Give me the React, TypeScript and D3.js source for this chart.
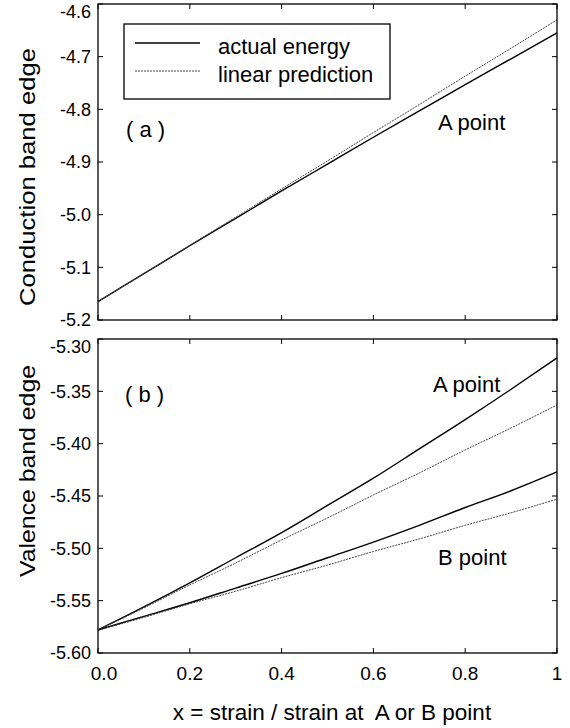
import React, { useEffect, useRef } from 'react';
import * as d3 from 'd3';

// strain fraction sampled along x
const xs = [0, 0.1, 0.2, 0.3, 0.4, 0.5, 0.6, 0.7, 0.8, 0.9, 1.0];

// panel (a): conduction band edge, A point
const condActualA = [-5.165, -5.112, -5.059, -5.007, -4.955, -4.904, -4.853, -4.803, -4.753, -4.704, -4.655];
const condLinearA = [-5.165, -5.112, -5.058, -5.005, -4.951, -4.898, -4.844, -4.791, -4.737, -4.684, -4.630];

// panel (b): valence band edge, A and B points
const valActualA = [-5.578, -5.556, -5.533, -5.509, -5.485, -5.459, -5.433, -5.405, -5.377, -5.348, -5.318];
const valLinearA = [-5.578, -5.557, -5.535, -5.514, -5.492, -5.471, -5.449, -5.428, -5.406, -5.385, -5.363];
const valActualB = [-5.578, -5.565, -5.552, -5.538, -5.524, -5.509, -5.494, -5.478, -5.461, -5.445, -5.427];
const valLinearB = [-5.578, -5.566, -5.553, -5.541, -5.528, -5.516, -5.503, -5.491, -5.478, -5.466, -5.453];

const xTicks = [0, 0.2, 0.4, 0.6, 0.8, 1];
const xTickLabels = ['0.0', '0.2', '0.4', '0.6', '0.8', '1'];
const condTicks = [-4.6, -4.7, -4.8, -4.9, -5.0, -5.1, -5.2];
const valTicks = [-5.30, -5.35, -5.40, -5.45, -5.50, -5.55, -5.60];

const App = () => {
  const svgRef = useRef<SVGSVGElement>(null);

  useEffect(() => {
    const svg = d3.select(svgRef.current);
    svg.selectAll('*').remove();

    const font = '"Liberation Sans", Arial, Helvetica, sans-serif';
    const left = 98;
    const right = 557;

    const x = d3.scaleLinear().domain([0, 1]).range([left, right]);

    const drawPanel = (
      top: number,
      bottom: number,
      domain: [number, number],
      ticks: number[],
      fmt: (d: number) => string,
      ylabel: string,
      labelY: number,
      labelLen: number,
      series: { values: number[]; dashed: boolean }[]
    ) => {
      const y = d3.scaleLinear().domain(domain).range([bottom, top]);
      const g = svg.append('g');

      const line = d3.line<number>().x((_, i) => x(xs[i])).y(d => y(d)).curve(d3.curveMonotoneX);
      series.forEach(s => {
        g.append('path')
          .datum(s.values)
          .attr('d', line)
          .attr('fill', 'none')
          .attr('stroke', s.dashed ? '#444' : '#000')
          .attr('stroke-width', s.dashed ? 1 : 1.4)
          .attr('stroke-dasharray', s.dashed ? '2,1' : null);
      });

      // frame
      g.append('rect')
        .attr('x', left).attr('y', top)
        .attr('width', right - left).attr('height', bottom - top)
        .attr('fill', 'none').attr('stroke', '#000').attr('stroke-width', 1.3);

      // inward ticks on all four sides
      const tl = 5;
      xTicks.forEach(t => {
        g.append('line').attr('x1', x(t)).attr('x2', x(t)).attr('y1', bottom).attr('y2', bottom - tl)
          .attr('stroke', '#000');
        g.append('line').attr('x1', x(t)).attr('x2', x(t)).attr('y1', top).attr('y2', top + tl)
          .attr('stroke', '#000');
      });
      ticks.forEach(t => {
        g.append('line').attr('x1', left).attr('x2', left + tl).attr('y1', y(t)).attr('y2', y(t))
          .attr('stroke', '#000');
        g.append('line').attr('x1', right).attr('x2', right - tl).attr('y1', y(t)).attr('y2', y(t))
          .attr('stroke', '#000');
        g.append('text')
          .attr('x', 91)
          .attr('y', Math.max(y(t), top + 8))
          .attr('dy', '0.35em')
          .attr('text-anchor', 'end')
          .style('font-family', font)
          .style('font-size', '18px')
          .text(fmt(t));
      });

      // y label
      g.append('text')
        .attr('transform', `translate(27,${labelY}) rotate(-90)`)
        .attr('dy', '0.35em')
        .attr('text-anchor', 'middle')
        .attr('textLength', labelLen)
        .attr('lengthAdjust', 'spacingAndGlyphs')
        .style('font-family', font)
        .style('font-size', '22px')
        .text(ylabel);

      return g;
    };

    const gA = drawPanel(4, 320, [-5.2, -4.6], condTicks, d => d.toFixed(1), 'Conduction band edge', 177, 258, [
      { values: condActualA, dashed: false },
      { values: condLinearA, dashed: true },
    ]);
    const gB = drawPanel(339, 653, [-5.6, -5.3], valTicks, d => d.toFixed(2), 'Valence band edge', 471, 212, [
      { values: valActualA, dashed: false },
      { values: valLinearA, dashed: true },
      { values: valActualB, dashed: false },
      { values: valLinearB, dashed: true },
    ]);

    const addText = (g: any, tx: number, ty: number, s: string) =>
      g.append('text')
        .attr('x', tx).attr('y', ty)
        .style('font-family', font)
        .style('font-size', '22px')
        .style('white-space', 'pre')
        .text(s);

    // legend
    gA.append('rect')
      .attr('x', 124).attr('y', 24).attr('width', 266).attr('height', 75)
      .attr('fill', '#fff').attr('stroke', '#000').attr('stroke-width', 1.3);
    gA.append('line').attr('x1', 135).attr('x2', 200).attr('y1', 43).attr('y2', 43)
      .attr('stroke', '#000').attr('stroke-width', 1.4);
    gA.append('line').attr('x1', 135).attr('x2', 200).attr('y1', 71).attr('y2', 71)
      .attr('stroke', '#444').attr('stroke-width', 1).attr('stroke-dasharray', '2,1');
    addText(gA, 218, 54, 'actual energy');
    addText(gA, 218, 82, 'linear prediction');

    addText(gA, 126, 137, '( a )');
    addText(gA, 438, 130, 'A point');
    addText(gB, 125, 402, '( b )');
    addText(gB, 433, 392, 'A point');
    addText(gB, 438, 565, 'B point');

    // x tick labels
    xTicks.forEach((t, i) => {
      svg.append('text')
        .attr('x', x(t) + (i === 0 ? 6 : 0))
        .attr('y', 680)
        .attr('text-anchor', 'middle')
        .style('font-family', font)
        .style('font-size', '19px')
        .text(xTickLabels[i]);
    });

    svg.append('text')
      .attr('x', 332)
      .attr('y', 720)
      .attr('text-anchor', 'middle')
      .style('font-family', font)
      .style('font-size', '22.5px')
      .style('white-space', 'pre')
      .text('x = strain / strain at  A or B point');
  }, []);

  return (
    <svg ref={svgRef} width="570" height="728"
      style={{ position: 'absolute', left: 0, top: 0, background: '#fff' }}></svg>
  );
};

export default App;
